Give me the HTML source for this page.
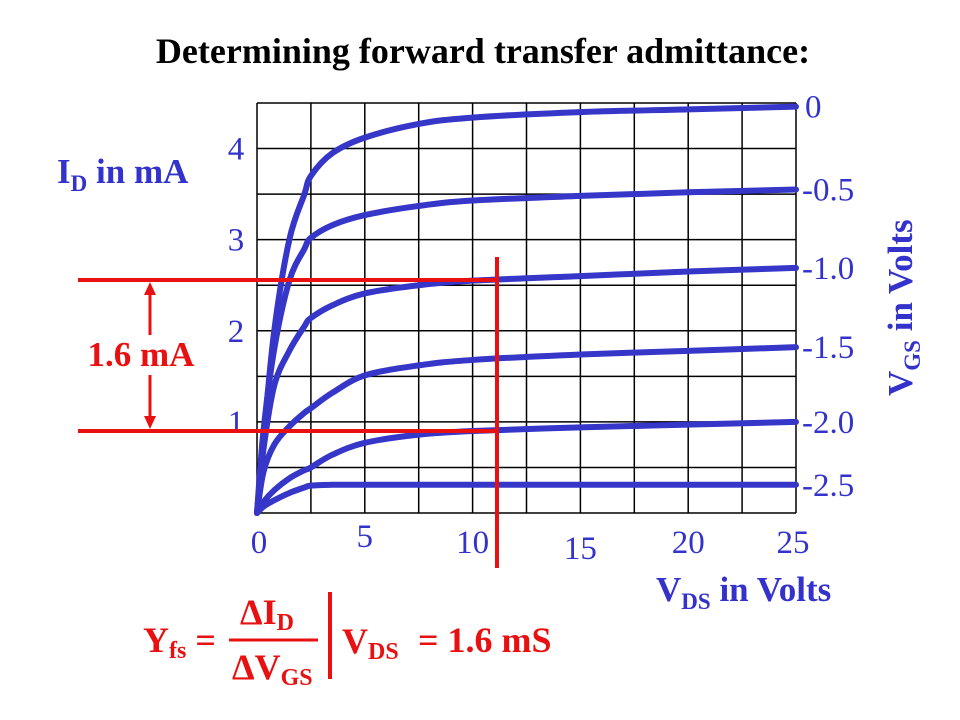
<!DOCTYPE html>
<html><head><meta charset="utf-8"><style>
body{margin:0;background:#fff;}
svg{display:block;font-family:"Liberation Serif",serif;}
</style></head><body>
<svg width="960" height="720" viewBox="0 0 960 720">
<text x="483" y="63" text-anchor="middle" font-size="36" font-weight="bold" fill="#000">Determining forward transfer admittance:</text>
<g id="grid"></g>
<g id="curves"></g>
<g id="ylabels"></g>
<g id="xlabels"></g>
<g id="vgslabels"></g>
<text x="57" y="183" font-size="35" font-weight="bold" fill="#3333cc">I<tspan font-size="23" dy="8">D</tspan><tspan dy="-8"> in mA</tspan></text>
<text x="656" y="601" font-size="35" font-weight="bold" fill="#3333cc">V<tspan font-size="23" dy="8">DS</tspan><tspan dy="-8"> in Volts</tspan></text>
<text transform="translate(912,396) rotate(-90)" font-size="35" font-weight="bold" fill="#3333cc">V<tspan font-size="23" dy="8">GS</tspan><tspan dy="-8"> in Volts</tspan></text>
<g>
<line x1="78" y1="280" x2="499" y2="280" stroke="#e81010" stroke-width="4"/>
<line x1="78" y1="431" x2="499" y2="431" stroke="#e81010" stroke-width="4"/>
<line x1="497" y1="257" x2="497" y2="568" stroke="#e81010" stroke-width="4"/>
<line x1="150" y1="292" x2="150" y2="335" stroke="#e81010" stroke-width="3"/>
<polygon points="150,282 144,295 156,295" fill="#e81010"/>
<line x1="150" y1="375" x2="150" y2="418" stroke="#e81010" stroke-width="3"/>
<polygon points="150,429 144,416 156,416" fill="#e81010"/>
<text x="141" y="366" text-anchor="middle" font-size="35" font-weight="bold" fill="#e81010">1.6 mA</text>
</g>
<g fill="#e81010" font-weight="bold">
<text x="143" y="652" font-size="36">Y<tspan font-size="24" dy="6">fs</tspan><tspan dy="-6"> =</tspan></text>
<text x="240" y="624" font-size="36">ΔI<tspan font-size="24" dy="6">D</tspan></text>
<line x1="229" y1="640" x2="318" y2="640" stroke="#e81010" stroke-width="3"/>
<text x="232" y="679" font-size="36">ΔV<tspan font-size="24" dy="6">GS</tspan></text>
<line x1="330" y1="592" x2="330" y2="679" stroke="#e81010" stroke-width="4"/>
<text x="342" y="653" font-size="36">V<tspan font-size="24" dy="6">DS</tspan></text>
<text x="418" y="652" font-size="36">= 1.6 mS</text>
</g>
</svg>
<script>
const xTicks=[0,5,10,15,20,25];
const yTicks=[1,2,3,4];
const vgsLabels=["0","-0.5","-1.0","-1.5","-2.0","-2.5"];
const vds=[0,0.3,0.8,1.5,2.2,2.5,3.5,5,7.5,10,15,20,25];
const id0=[0,0.8,2.0,3.0,3.5,3.7,3.95,4.12,4.27,4.34,4.40,4.43,4.46];
const id05=[0,0.9,1.8,2.55,2.9,3.02,3.16,3.27,3.37,3.43,3.48,3.52,3.55];
const id10=[0,0.7,1.4,1.78,2.05,2.14,2.28,2.41,2.50,2.55,2.60,2.65,2.69];
const id15=[0,0.45,0.75,0.95,1.1,1.15,1.32,1.51,1.62,1.68,1.74,1.78,1.82];
const id20=[0,0.12,0.25,0.38,0.47,0.5,0.64,0.77,0.86,0.90,0.94,0.97,1.00];
const id25=[0,0.07,0.14,0.22,0.28,0.30,0.31,0.31,0.31,0.31,0.31,0.31,0.31];
const series=[id0,id05,id10,id15,id20,id25];
const X0=257,X1=796,Y0=513,Y1=103,XMAX=25,YMAX=4.5;
const sx=v=>X0+(X1-X0)*v/XMAX;
const sy=v=>Y0-(Y0-Y1)*v/YMAX;
const NS="http://www.w3.org/2000/svg";
function mk(t,a,p){const e=document.createElementNS(NS,t);for(const k in a)e.setAttribute(k,a[k]);p.appendChild(e);return e;}
const grid=document.getElementById('grid');
for(let i=0;i<=10;i++){const x=sx(i*2.5);const l=mk('line',{x1:x,y1:Y1,x2:x,y2:Y0,stroke:'#000','stroke-width':1.5},grid);

}
for(let j=0;j<=9;j++){const y=sy(j*0.5);const l=mk('line',{x1:X0,y1:y,x2:X1,y2:y,stroke:'#000','stroke-width':1.5},grid);

}
const cg=document.getElementById('curves');
function smooth(pts){let d=`M${pts[0][0]},${pts[0][1]}`;for(let i=0;i<pts.length-1;i++){const p0=pts[Math.max(i-1,0)],p1=pts[i],p2=pts[i+1],p3=pts[Math.min(i+2,pts.length-1)];
const c1=[p1[0]+(p2[0]-p0[0])/6,p1[1]+(p2[1]-p0[1])/6],c2=[p2[0]-(p3[0]-p1[0])/6,p2[1]-(p3[1]-p1[1])/6];d+=` C${c1[0]},${c1[1]} ${c2[0]},${c2[1]} ${p2[0]},${p2[1]}`;}return d;}
series.forEach((s,k)=>{const pts=vds.map((v,i)=>[sx(v),sy(s[i])]);
const p=mk('path',{d:smooth(pts),fill:'none',stroke:'#3636c8','stroke-width':6,'stroke-linecap':'round','stroke-linejoin':'round'},cg);

});
const yl=document.getElementById('ylabels');
yTicks.forEach(v=>{const t=mk('text',{x:236,y:sy(v)+11,'text-anchor':'middle','font-size':33,fill:'#3333cc'},yl);t.textContent=v;

});
const xl=document.getElementById('xlabels');
const xOff=[0,-6,0,6,0,0];
xTicks.forEach((v,i)=>{const t=mk('text',{x:sx(v)+(i===0?2:i===5?-3:0),y:553+xOff[i],'text-anchor':'middle','font-size':33,fill:'#3333cc'},xl);t.textContent=v;

});
const vl=document.getElementById('vgslabels');
series.forEach((s,k)=>{const t=mk('text',{x:k===0?805:802,y:sy(s[s.length-1])+11,'font-size':33,fill:'#3333cc'},vl);t.textContent=vgsLabels[k];

});
</script>
</body></html>
